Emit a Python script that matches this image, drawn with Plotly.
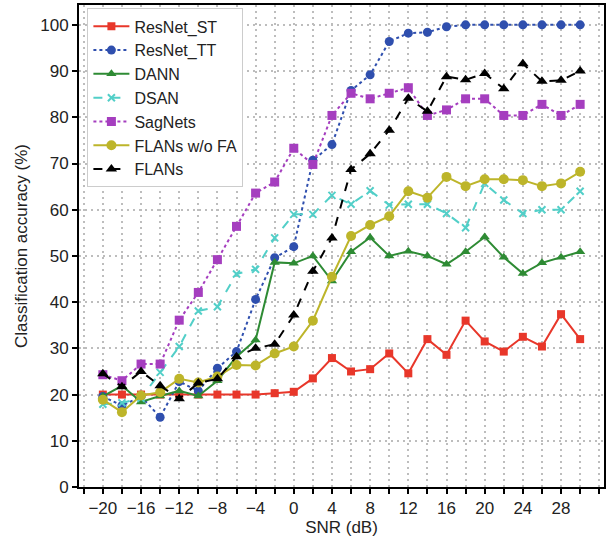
import plotly.graph_objects as go

snr = [-20, -18, -16, -14, -12, -10, -8, -6, -4, -2, 0, 2, 4, 6, 8, 10, 12, 14, 16, 18, 20, 22, 24, 26, 28, 30]

resnet_st = [20.0, 20.0, 20.0, 20.0, 20.0, 20.0, 20.0, 20.0, 20.0, 20.3, 20.6, 23.5, 27.9, 25.0, 25.5, 28.9, 24.6, 32.0, 28.6, 36.0, 31.5, 29.3, 32.5, 30.4, 37.4, 32.0]
resnet_tt = [19.6, 17.6, 19.6, 15.1, 22.8, 20.8, 25.7, 29.3, 40.6, 49.6, 52.0, 70.7, 74.1, 85.8, 89.2, 96.4, 98.2, 98.4, 99.6, 100.0, 100.0, 100.0, 100.0, 100.0, 100.0, 100.0]
dann = [19.6, 21.9, 18.4, 19.7, 20.8, 19.7, 23.0, 28.2, 31.8, 48.6, 48.4, 50.0, 44.6, 50.9, 54.0, 50.0, 51.0, 50.0, 48.2, 50.9, 54.1, 49.7, 46.2, 48.5, 49.7, 50.9]
dsan = [17.9, 18.2, 19.2, 24.8, 30.4, 38.1, 39.0, 46.1, 47.1, 53.9, 59.0, 59.0, 63.1, 61.2, 64.1, 61.0, 61.2, 61.2, 59.2, 56.1, 65.7, 62.1, 59.2, 60.0, 60.0, 64.0]
sagnets = [24.3, 23.0, 26.6, 26.6, 36.1, 42.1, 49.2, 56.4, 63.6, 66.0, 73.3, 69.8, 80.4, 85.2, 84.0, 85.2, 86.4, 80.4, 81.6, 84.0, 84.0, 80.4, 80.4, 82.8, 80.4, 82.8]
flans_wo_fa = [18.9, 16.2, 19.8, 20.5, 23.4, 22.6, 23.9, 26.4, 26.3, 28.9, 30.4, 36.0, 45.5, 54.3, 56.7, 58.6, 64.0, 62.6, 67.1, 65.1, 66.6, 66.6, 66.4, 65.1, 65.7, 68.2]
flans = [24.5, 21.7, 25.0, 21.9, 19.1, 22.5, 23.4, 28.2, 30.0, 30.9, 37.2, 46.7, 53.9, 68.7, 72.1, 77.2, 84.1, 81.3, 88.8, 88.1, 89.5, 86.2, 91.6, 87.8, 88.0, 90.0]

x_tickvals = [-20, -16, -12, -8, -4, 0, 4, 8, 12, 16, 20, 24, 28]
x_ticktext = ["\u221220", "\u221216", "\u221212", "\u22128", "\u22124", "0", "4", "8", "12", "16", "20", "24", "28"]
y_tickvals = [0, 10, 20, 30, 40, 50, 60, 70, 80, 90, 100]

series = [
    ("ResNet_ST", resnet_st, "#E8372A", "solid", "square", 8),
    ("ResNet_TT", resnet_tt, "#2F4FAE", "dot", "circle", 9),
    ("DANN", dann, "#2E8B34", "solid", "triangle-up", 9),
    ("DSAN", dsan, "#52CFC8", "dash", "x-thin", 7),
    ("SagNets", sagnets, "#A53EBF", "dot", "square", 9),
    ("FLANs w/o FA", flans_wo_fa, "#BDB52A", "solid", "circle", 10),
    ("FLANs", flans, "#000000", "dash", "triangle-up", 10),
]

fig = go.Figure()
for name, vals, color, dash, sym, size in series:
    marker = dict(symbol=sym, size=size, color=color)
    if sym == "x-thin":
        marker["line"] = dict(color=color, width=2)
    fig.add_trace(go.Scatter(
        x=snr, y=vals, name=name, mode="lines+markers",
        line=dict(color=color, width=2, dash=dash),
        marker=marker,
    ))

font = "Liberation Sans, Arial, sans-serif"
grid_dash = "2px,4px"
grid_color = "#BDBDBD"
fig.update_layout(
    width=606, height=548,
    margin=dict(l=79, r=2, t=5, b=61, autoexpand=False),
    paper_bgcolor="white", plot_bgcolor="white",
    font=dict(family=font, size=16, color="#222222"),
    showlegend=True,
    legend=dict(
        x=0.016, y=0.993, xanchor="left", yanchor="top",
        bgcolor="white", bordercolor="#CCCCCC", borderwidth=1,
        font=dict(size=16, color="#222222"),
        tracegroupgap=0, itemwidth=36,
    ),
    xaxis=dict(
        title=dict(text="SNR (dB)", font=dict(size=17), standoff=4),
        automargin=False,
        range=[-22.5, 32.5],
        tickvals=x_tickvals, ticktext=x_ticktext,
        tickfont=dict(size=17),
        ticks="outside", ticklen=5, tickwidth=1.5, tickcolor="black",
        showline=True, linecolor="black", linewidth=2, mirror=True,
        showgrid=True, gridcolor=grid_color, griddash=grid_dash, gridwidth=1.5,
        zeroline=False,
        minor=dict(dtick=2, tick0=0, ticks="outside", ticklen=5, tickwidth=1.5, tickcolor="black",
                   showgrid=True, gridcolor=grid_color, griddash=grid_dash, gridwidth=1.5),
    ),
    yaxis=dict(
        title=dict(text="Classification accuracy (%)", font=dict(size=17), standoff=8),
        automargin=False,
        range=[0, 104.3],
        tickvals=y_tickvals,
        tickfont=dict(size=17),
        ticks="outside", ticklen=5, tickwidth=1.5, tickcolor="black",
        showline=True, linecolor="black", linewidth=2, mirror=True,
        showgrid=True, gridcolor=grid_color, griddash=grid_dash, gridwidth=1.5,
        zeroline=False,
    ),
)

fig.write_html("out.html", config={"displayModeBar": False},
               post_script="document.body.style.margin='0px';")
